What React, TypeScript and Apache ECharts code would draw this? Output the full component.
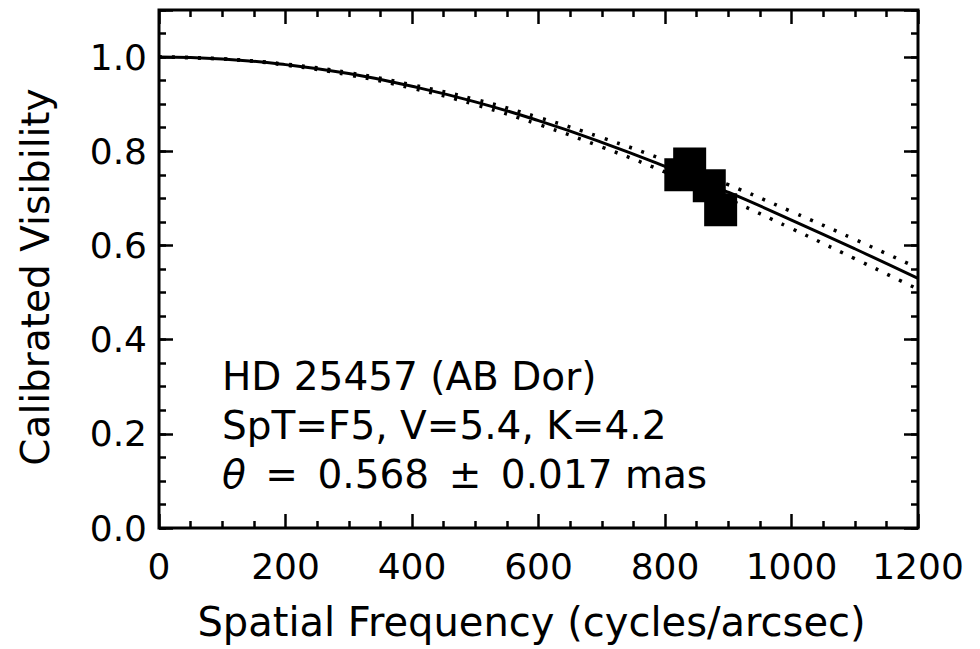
import React, { useEffect, useRef } from "react";
import * as echarts from "echarts";

// Spatial frequency samples (cycles/arcsec) for the model curves
const freq = [0, 100, 200, 300, 400, 500, 600, 700, 800, 900, 1000, 1100, 1200];
// Best-fit uniform-disk model curve (solid)
const visFit = [1.0, 0.996, 0.984, 0.965, 0.938, 0.905, 0.865, 0.819, 0.768, 0.713, 0.654, 0.593, 0.530];
// Upper / lower bounds (dotted)
const visUpper = [1.0, 0.996, 0.985, 0.967, 0.941, 0.910, 0.872, 0.829, 0.781, 0.729, 0.672, 0.613, 0.552];
const visLower = [1.0, 0.996, 0.983, 0.962, 0.934, 0.899, 0.857, 0.809, 0.756, 0.698, 0.636, 0.572, 0.507];
// Observed calibrated visibilities
const obsFreq = [825, 839, 870, 888];
const obsVis = [0.750, 0.773, 0.727, 0.676];

const xTicks = [0, 200, 400, 600, 800, 1000, 1200];
const yTicks = [0.0, 0.2, 0.4, 0.6, 0.8, 1.0];

const noteLines = [
  "HD 25457 (AB Dor)",
  "SpT=F5, V=5.4, K=4.2",
  "{i|θ}\u2002=\u20020.568\u2002±\u20020.017 mas",
];

const FONT = "DejaVu Sans";

export default function App() {
  const ref = useRef<HTMLDivElement>(null);
  useEffect(() => {
    if (!ref.current) return;
    const chart = echarts.init(ref.current, null, { renderer: "svg" });
    const tickStyle = { color: "#000", width: 2.5 };
    const X_MIN = xTicks[0];
    const X_MAX = xTicks[xTicks.length - 1];
    const noLine = { show: false, onZero: false };

    const xLabelAxis: any = {
      type: "value",
      position: "bottom",
      min: X_MIN,
      max: X_MAX,
      interval: 200,
      axisLine: noLine,
      axisTick: { show: false },
      splitLine: { show: false },
      axisLabel: {
        color: "#000",
        fontFamily: FONT,
        fontSize: 36,
        margin: 20,
        formatter: (v: number) => String(Math.round(v)),
      },
      name: "Spatial Frequency (cycles/arcsec)",
      nameLocation: "middle",
      nameGap: 74,
      nameTextStyle: { color: "#000", fontFamily: FONT, fontSize: 40, padding: [0, 14, 0, 0] },
    };
    const xTickAxis = (pos: string) => ({
      type: "value",
      position: pos,
      min: X_MIN,
      max: X_MAX,
      interval: 200,
      axisLine: noLine,
      axisTick: { show: true, inside: true, length: 14, lineStyle: tickStyle },
      minorTick: { show: true, splitNumber: 4, length: 7, lineStyle: tickStyle },
      splitLine: { show: false },
      axisLabel: { show: false },
    });

    const yFmt = (v: number) => {
      const ok = yTicks.some((t) => Math.abs(t - v) < 1e-6);
      return ok ? v.toFixed(1) : "";
    };
    const yLabelAxis: any = {
      type: "value",
      position: "left",
      min: 0,
      max: 1.1,
      interval: 0.2,
      axisLine: noLine,
      axisTick: { show: false },
      splitLine: { show: false },
      axisLabel: {
        color: "#000",
        fontFamily: FONT,
        fontSize: 36,
        margin: 12,
        formatter: yFmt,
      },
      name: "Calibrated Visibility",
      nameLocation: "middle",
      nameGap: 104,
      nameTextStyle: { color: "#000", fontFamily: FONT, fontSize: 39, padding: [0, 16, 0, 0] },
    };
    const yTickAxis = (pos: string, interval: number, len: number) => ({
      type: "value",
      position: pos,
      min: 0,
      max: 1.1,
      interval,
      axisLine: noLine,
      axisTick: { show: true, inside: true, length: len, lineStyle: tickStyle },
      splitLine: { show: false },
      axisLabel: { show: false },
    });

    const lineData = (ys: number[]) => freq.map((f, i) => [f, ys[i]]);

    chart.setOption({
      animation: false,
      backgroundColor: "#fff",
      grid: {
        show: true,
        left: 159,
        right: 62,
        top: 10,
        bottom: 121,
        borderColor: "#000",
        borderWidth: 3,
        backgroundColor: "transparent",
      },
      xAxis: [xLabelAxis, xTickAxis("bottom"), xTickAxis("top")],
      yAxis: [
        yLabelAxis,
        yTickAxis("left", 0.2, 14),
        yTickAxis("left", 0.05, 7),
        yTickAxis("right", 0.2, 14),
        yTickAxis("right", 0.05, 7),
      ],
      series: [
        {
          type: "line",
          data: lineData(visUpper),
          smooth: true,
          showSymbol: false,
          lineStyle: { color: "#000", width: 3.5, type: [3, 10] },
          z: 2,
        },
        {
          type: "line",
          data: lineData(visLower),
          smooth: true,
          showSymbol: false,
          lineStyle: { color: "#000", width: 3.5, type: [3, 10] },
          z: 2,
        },
        {
          type: "line",
          data: lineData(visFit),
          smooth: true,
          showSymbol: false,
          lineStyle: { color: "#000", width: 3 },
          z: 3,
        },
        {
          type: "scatter",
          data: obsFreq.map((f, i) => [f, obsVis[i]]),
          symbol: "rect",
          symbolSize: 33,
          itemStyle: { color: "#000", opacity: 1 },
          z: 4,
        },
      ],
      graphic: noteLines.map((t, i) => ({
        type: "text",
        x: 222,
        y: 376 + i * 49,
        style: {
          text: t,
          fill: "#000",
          fontFamily: FONT,
          fontSize: 39,
          verticalAlign: "middle",
          align: "left",
          rich: {
            i: { fontStyle: "italic", fontFamily: FONT, fontSize: 39, fill: "#000" },
          },
        },
      })),
    });
    return () => chart.dispose();
  }, []);
  return (
    <div
      ref={ref}
      style={{ position: "fixed", left: 0, top: 0, width: 980, height: 649, background: "#fff" }}
    />
  );
}
